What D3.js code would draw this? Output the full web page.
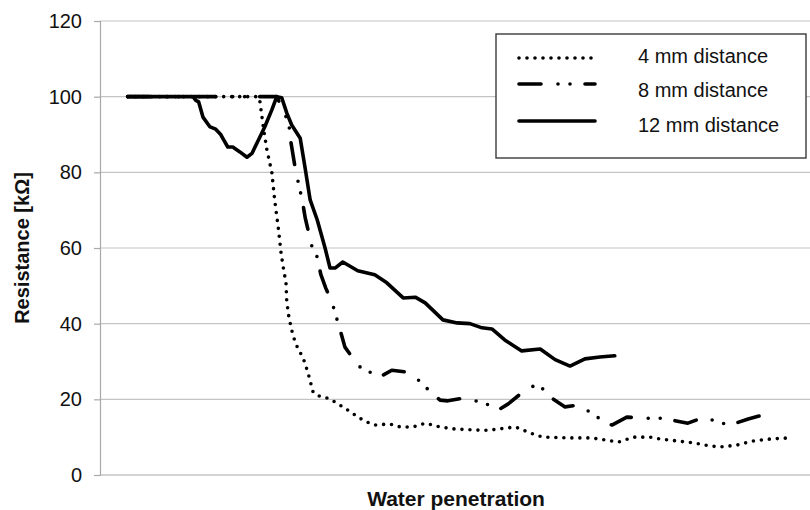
<!DOCTYPE html>
<html>
<head>
<meta charset="utf-8">
<script src="https://cdn.jsdelivr.net/npm/d3@7"></script>
<style>
  body { margin: 0; background: #fff; }
  text { font-family: "Liberation Sans", Arial, sans-serif; fill: #111; }
</style>
</head>
<body>
<div id="chart"></div>
<script>
// Resistance [kOhm] against water penetration (relative, 0-100)
var yTicks = [0, 20, 40, 60, 80, 100, 120];
var seriesNames = ["4 mm distance", "8 mm distance", "12 mm distance"];

var pen4 = [3.9, 22.3, 22.5, 23.0, 23.5, 24.2, 24.6, 25.1, 25.5, 25.8, 26.2, 26.3, 26.6, 27.0, 27.5, 28.0, 28.6, 29.3, 30.0, 30.6, 31.7, 32.8, 34.2, 35.5, 36.6, 37.6, 38.7, 40.8, 42.3, 44.1, 45.8, 47.9, 49.7, 52.5, 54.6, 56.3, 58.5, 60.6, 62.4, 65.8, 69.0, 70.4, 73.0, 75.1, 77.5, 78.9, 81.3, 83.5, 85.9, 87.3, 89.7, 92.0, 94.4, 97.0];
var res4 = [100, 100, 99, 92, 86, 80, 72.7, 65.5, 58.7, 55, 50.7, 46, 41.8, 38.3, 35, 33, 31, 27, 22, 21, 20.6, 19.6, 18, 16.4, 15, 14, 13.2, 13.5, 12.7, 12.7, 13.7, 12.7, 12.2, 11.9, 11.8, 12.2, 12.7, 11.1, 10, 9.8, 9.8, 9.5, 8.7, 10, 10, 9.5, 9, 8.5, 7.7, 7.4, 7.9, 9, 9.5, 9.8];

var pen8 = [3.9, 24.9, 26.6, 26.8, 27.5, 28.0, 28.5, 28.9, 29.9, 30.6, 31.1, 31.8, 32.7, 33.9, 34.5, 35.6, 37.0, 38.0, 39.4, 41.1, 43.2, 44.9, 45.8, 47.9, 49.0, 51.4, 53.5, 54.2, 56.1, 57.5, 59.4, 61.5, 62.4, 63.4, 65.5, 67.5, 69.4, 70.7, 72.1, 74.2, 76.8, 79.2, 82.8, 85.1, 87.0, 88.7, 91.3, 93.4];
var res8 = [100, 100, 93, 89, 81, 76.7, 72.5, 68, 60, 57.6, 53, 49.4, 45.5, 37.8, 33.8, 30.9, 27.7, 27.2, 25.9, 27.7, 27.2, 25, 23.3, 19.8, 19.6, 20.4, 19.3, 19, 17.2, 18.8, 21.7, 24, 22.7, 20.6, 18, 18.5, 16.1, 14.5, 13.2, 15.3, 15, 15, 13.7, 15.3, 14, 13.2, 14.8, 15.9];

var pen12 = [3.9, 13.1, 13.5, 13.9, 14.5, 15.5, 16.3, 17.0, 17.3, 18.0, 18.7, 19.7, 20.7, 21.4, 22.3, 23.2, 24.2, 24.9, 25.6, 26.3, 27.0, 28.2, 28.9, 29.6, 30.6, 31.7, 32.4, 33.1, 34.2, 36.3, 38.7, 40.4, 42.7, 44.4, 45.8, 48.3, 50.3, 52.1, 53.8, 55.2, 57.0, 59.4, 62.0, 64.1, 66.2, 68.3, 70.4, 72.5];
var res12 = [100, 100, 99, 98.6, 94.6, 92, 91.4, 90, 89, 86.7, 86.7, 85.4, 84, 85, 88.5, 92, 96.5, 100, 99.7, 95.7, 92.5, 89, 81, 72.7, 67.4, 60, 54.7, 54.7, 56.3, 54, 52.9, 50.8, 46.8, 47, 45.5, 41, 40.2, 40, 38.9, 38.6, 35.7, 32.8, 33.3, 30.5, 28.8, 30.7, 31.2, 31.5];

var width = 810, height = 510;
var margin = {top: 21, right: 0, bottom: 35, left: 100};
var plotW = width - margin.left - margin.right;
var plotH = height - margin.top - margin.bottom;

var svg = d3.select("#chart").append("svg")
    .attr("width", width)
    .attr("height", height);

var g = svg.append("g")
    .attr("transform", "translate(" + margin.left + "," + margin.top + ")");

var x = d3.scaleLinear().domain([0, 100]).range([0, plotW]);
var y = d3.scaleLinear().domain([0, 120]).range([plotH, 0]);

//Gridlines
g.selectAll(".grid")
    .data(yTicks.filter(function (d) { return d > 0; }))
    .enter()
    .append("line")
    .attr("class", "grid")
    .attr("x1", 0)
    .attr("x2", plotW)
    .attr("y1", function (d) { return y(d); })
    .attr("y2", function (d) { return y(d); })
    .style("stroke", "#c4c4c4")
    .style("stroke-width", 1.2);

//Y axis
var yAxis = g.append("g")
    .call(d3.axisLeft(y).tickValues(yTicks).tickSize(6).tickPadding(12));
yAxis.select(".domain").style("stroke", "#a8a8a8").style("stroke-width", 1.2);
yAxis.selectAll(".tick line").style("stroke", "#a8a8a8").style("stroke-width", 1.2);
yAxis.selectAll(".tick text")
    .style("font-size", "20px")
    .style("font-family", "'Liberation Sans', Arial, sans-serif")
    .style("fill", "#111");

//X axis line (no ticks)
g.append("line")
    .attr("x1", 0).attr("x2", plotW)
    .attr("y1", y(0)).attr("y2", y(0))
    .style("stroke", "#a8a8a8")
    .style("stroke-width", 1.2);

//Series
var series = [
    {name: seriesNames[0], pen: pen4, res: res4, dash: "0 8"},
    {name: seriesNames[1], pen: pen8, res: res8, dash: "22 17 0 12 0 15"},
    {name: seriesNames[2], pen: pen12, res: res12, dash: null}
];

var line = d3.line()
    .x(function (d) { return x(d[0]); })
    .y(function (d) { return y(d[1]); });

series.forEach(function (s) {
    g.append("path")
        .datum(d3.zip(s.pen, s.res))
        .attr("d", line)
        .style("fill", "none")
        .style("stroke", "#000")
        .style("stroke-width", 3.6)
        .style("stroke-linecap", "round")
        .style("stroke-linejoin", "round")
        .style("stroke-dasharray", s.dash);
});

//Legend
var legend = svg.append("g").attr("transform", "translate(496,34)");
legend.append("rect")
    .attr("width", 310)
    .attr("height", 124)
    .style("fill", "#fff")
    .style("stroke", "#3a3a3a")
    .style("stroke-width", 1.4);

var rowY = [24, 50, 87];
var textY = [29, 63, 98];
series.forEach(function (s, i) {
    legend.append("line")
        .attr("x1", 23).attr("x2", 99)
        .attr("y1", rowY[i]).attr("y2", rowY[i])
        .style("stroke", "#000")
        .style("stroke-width", 3.6)
        .style("stroke-linecap", "round")
        .style("stroke-dasharray", s.dash);
    legend.append("text")
        .attr("x", 142)
        .attr("y", textY[i])
        .style("font-size", "20px")
        .text(s.name);
});

//Axis titles
svg.append("text")
    .attr("x", (margin.left + width) / 2 + 1)
    .attr("y", 506)
    .attr("text-anchor", "middle")
    .style("font-size", "21px")
    .style("font-weight", "bold")
    .text("Water penetration");

svg.append("text")
    .attr("transform", "translate(29," + (margin.top + plotH / 2) + ") rotate(-90)")
    .attr("text-anchor", "middle")
    .style("font-size", "20px")
    .style("font-weight", "bold")
    .text("Resistance [kΩ]");
</script>
</body>
</html>
